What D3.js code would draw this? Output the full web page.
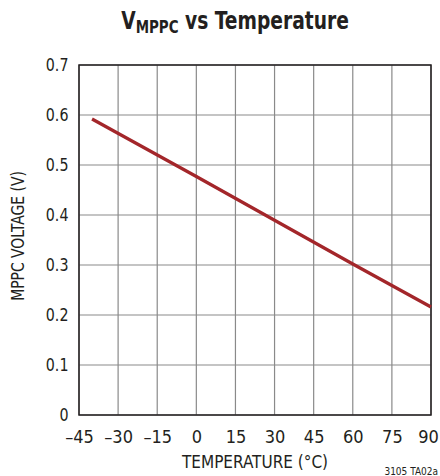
<!DOCTYPE html>
<html>
<head>
<meta charset="utf-8">
<script src="https://cdn.jsdelivr.net/npm/d3@7"></script>
<style>
  html, body { margin: 0; padding: 0; background: #fff; }
  svg text { font-family: "Liberation Sans Narrow", "DejaVu Sans Condensed", "Arial Narrow", sans-serif; fill: #231f20; }
</style>
</head>
<body>
<svg id="chart" width="440" height="476"></svg>
<script>
// MPPC voltage versus temperature
const temperature = [-40, 0, 60, 90];
const voltage = [0.592, 0.477, 0.302, 0.216];
const xTicks = [-45, -30, -15, 0, 15, 30, 45, 60, 75, 90];
const yTicks = [0, 0.1, 0.2, 0.3, 0.4, 0.5, 0.6, 0.7];

const svg = d3.select("#chart");
const margin = { left: 79, right: 9, top: 65, bottom: 61 };
const W = 440, H = 476;

const x = d3.scaleLinear().domain([-45, 90]).range([margin.left, W - margin.right]);
const y = d3.scaleLinear().domain([0, 0.7]).range([H - margin.bottom, margin.top]);

// grid
const grid = svg.append("g");
grid.selectAll("line.v").data(xTicks).join("line")
  .attr("x1", d => x(d)).attr("x2", d => x(d))
  .attr("y1", y(0)).attr("y2", y(0.7))
  .attr("stroke", "#8a8a8a").attr("stroke-width", 1.2);
grid.selectAll("line.h").data(yTicks).join("line")
  .attr("x1", x(-45)).attr("x2", x(90))
  .attr("y1", d => y(d)).attr("y2", d => y(d))
  .attr("stroke", "#8a8a8a").attr("stroke-width", 1.2);

// frame
svg.append("rect")
  .attr("x", x(-45)).attr("y", y(0.7))
  .attr("width", x(90) - x(-45)).attr("height", y(0) - y(0.7))
  .attr("fill", "none").attr("stroke", "#231f20").attr("stroke-width", 1.5);

// data line
const pts = temperature.map((t, i) => [t, voltage[i]]);
svg.append("path")
  .datum(pts)
  .attr("d", d3.line().x(d => x(d[0])).y(d => y(d[1])))
  .attr("fill", "none").attr("stroke", "#a3262a").attr("stroke-width", 3.2);

// axes (labels only)
const fmtX = d => (d < 0 ? "\u2013" + Math.abs(d) : String(d));
const xAxis = svg.append("g")
  .attr("transform", `translate(0,${y(0)})`)
  .call(d3.axisBottom(x).tickValues(xTicks).tickSize(0).tickPadding(15).tickFormat(fmtX));
xAxis.select(".domain").remove();
xAxis.selectAll("text").attr("font-size", 18).style("font-family", null)
  .attr("dx", d => d === 90 ? -3 : 0);

const yAxis = svg.append("g")
  .attr("transform", `translate(${x(-45)},0)`)
  .call(d3.axisLeft(y).tickValues(yTicks).tickSize(0).tickPadding(12).tickFormat(d => d === 0 ? "0" : d3.format(".1f")(d)));
yAxis.select(".domain").remove();
yAxis.selectAll("text").attr("font-size", 18).style("font-family", null)
  .attr("transform", "scale(0.88,1)");

// axis titles
svg.append("text")
  .attr("x", (x(-45) + x(90)) / 2).attr("y", 468)
  .attr("text-anchor", "middle").attr("font-size", 17)
  .text("TEMPERATURE (\u00B0C)");

svg.append("text")
  .attr("transform", `translate(24,236) rotate(-90) scale(0.91,1)`)
  .attr("text-anchor", "middle").attr("font-size", 17)
  .text("MPPC VOLTAGE (V)");

// title
const title = svg.append("text")
  .attr("transform", "translate(235,29) scale(0.83,1)")
  .attr("text-anchor", "middle").attr("font-size", 25).attr("font-weight", "bold");
title.append("tspan").text("V");
title.append("tspan").attr("font-size", 18).attr("dy", 4).text("MPPC");
title.append("tspan").attr("dy", -4).text(" vs Temperature");

// figure code
svg.append("text")
  .attr("x", 438).attr("y", 475)
  .attr("text-anchor", "end").attr("font-size", 10)
  .text("3105 TA02a");
</script>
</body>
</html>
